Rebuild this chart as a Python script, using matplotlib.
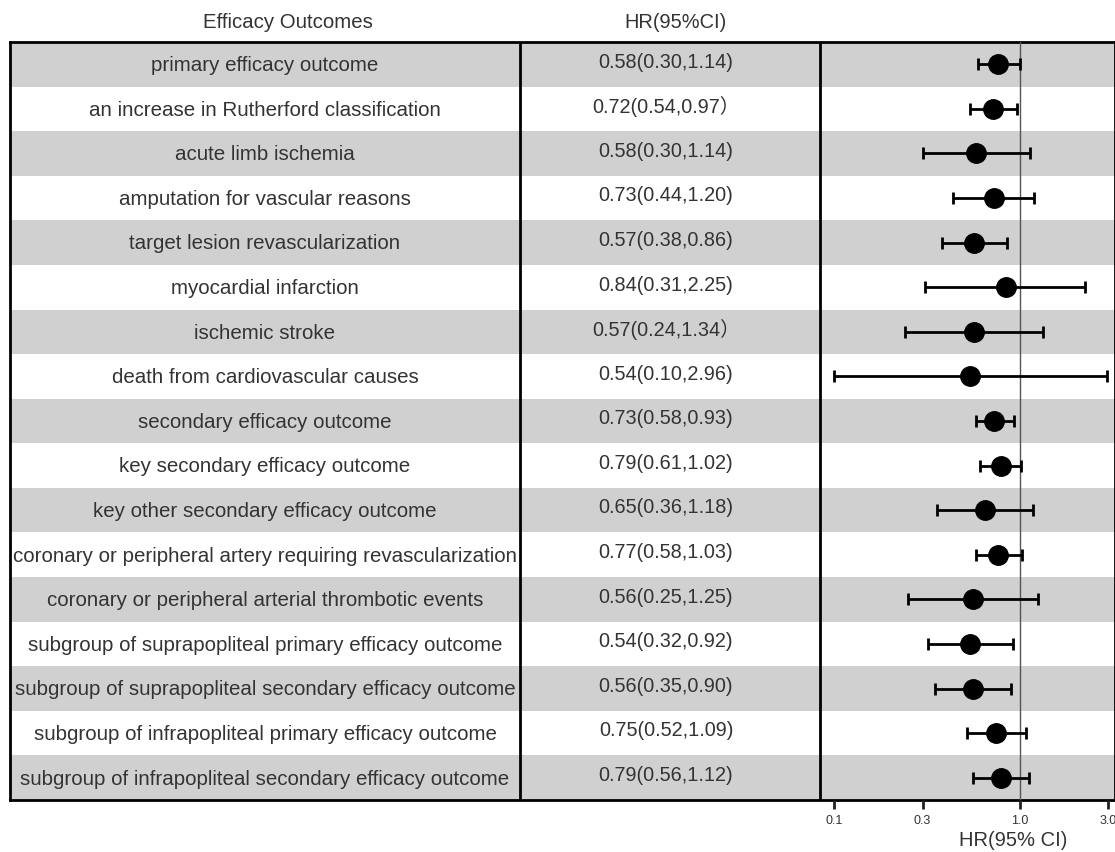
import numpy as np
import matplotlib
matplotlib.use('Agg')
import matplotlib.pyplot as plt

plt.rcParams['font.family'] = ['Liberation Sans', 'Noto Sans CJK SC']

# outcomes, text column and plotted estimates
outcomes = [
    'primary efficacy outcome',
    'an increase in Rutherford classification',
    'acute limb ischemia',
    'amputation for vascular reasons',
    'target lesion revascularization',
    'myocardial infarction',
    'ischemic stroke',
    'death from cardiovascular causes',
    'secondary efficacy outcome',
    'key secondary efficacy outcome',
    'key other secondary efficacy outcome',
    'coronary or peripheral artery requiring revascularization',
    'coronary or peripheral arterial thrombotic events',
    'subgroup of suprapopliteal primary efficacy outcome',
    'subgroup of suprapopliteal secondary efficacy outcome',
    'subgroup of infrapopliteal primary efficacy outcome',
    'subgroup of infrapopliteal secondary efficacy outcome',
]
hr_text = [
    '0.58(0.30,1.14)', '0.72(0.54,0.97）', '0.58(0.30,1.14)', '0.73(0.44,1.20)',
    '0.57(0.38,0.86)', '0.84(0.31,2.25)', '0.57(0.24,1.34）', '0.54(0.10,2.96)',
    '0.73(0.58,0.93)', '0.79(0.61,1.02)', '0.65(0.36,1.18)', '0.77(0.58,1.03)',
    '0.56(0.25,1.25)', '0.54(0.32,0.92)', '0.56(0.35,0.90)', '0.75(0.52,1.09)',
    '0.79(0.56,1.12)',
]
hr = np.array([0.77, 0.72, 0.58, 0.73, 0.57, 0.84, 0.57, 0.54, 0.73, 0.79,
               0.65, 0.77, 0.56, 0.54, 0.56, 0.75, 0.79])
lo = np.array([0.60, 0.54, 0.30, 0.44, 0.38, 0.31, 0.24, 0.10, 0.58, 0.61,
               0.36, 0.58, 0.25, 0.32, 0.35, 0.52, 0.56])
hi = np.array([1.00, 0.97, 1.14, 1.20, 0.86, 2.25, 1.34, 2.96, 0.93, 1.02,
               1.18, 1.03, 1.25, 0.92, 0.90, 1.09, 1.12])
xticks = [0.1, 0.3, 1.0, 3.0]
xtick_labels = ['0.1', '0.3', '1.0', '3.0']

W, H = 1115, 852
n = len(outcomes)
gray = '#d0d0d0'
txt = '#333333'

fig = plt.figure(figsize=(W / 100, H / 100), dpi=100)

# table background
tab = fig.add_axes([10 / W, (H - 800) / H, (W - 10) / W, 758 / H])
tab.set_xlim(10, W)
tab.set_ylim(n, 0)
tab.set_xticks([])
tab.set_yticks([])
for s in tab.spines.values():
    s.set_linewidth(2)
for i in range(n):
    if i % 2 == 0:
        tab.axhspan(i, i + 1, color=gray, lw=0, zorder=0)
    tab.text(265, i + 0.53, outcomes[i], ha='center', va='center', fontsize=14.8, color=txt)
    tab.text(666, i + 0.45, hr_text[i], ha='center', va='center', fontsize=14.3, color=txt)
tab.axvline(520, color='black', lw=2)
tab.axvline(820, color='black', lw=2)

# forest panel
fx = fig.add_axes([820 / W, (H - 800) / H, 295 / W, 758 / H])
fx.patch.set_alpha(0)
fx.set_xscale('log')
fx.set_xlim(0.084, 3.27)
fx.set_ylim(n, 0)
y = np.arange(n) + 0.5
fx.axvline(1.0, color='#555555', lw=1, zorder=1)
fx.errorbar(hr, y, xerr=[hr - lo, hi - hr], fmt='o', color='black', ms=14,
            elinewidth=2, capsize=4, capthick=2, zorder=3)
fx.set_xticks(xticks)
fx.set_xticklabels(xtick_labels)
fx.xaxis.set_minor_locator(matplotlib.ticker.NullLocator())
fx.tick_params(axis='x', direction='out', length=6.5, width=2, labelsize=9,
               pad=4, colors='#222222', labelcolor=txt)
fx.set_yticks([])
for s in fx.spines.values():
    s.set_visible(False)

fig.text(288 / W, 1 - 22 / H, 'Efficacy Outcomes', ha='center', va='center', fontsize=14.7, color=txt)
fig.text(676 / W, 1 - 22 / H, 'HR(95%CI)', ha='center', va='center', fontsize=14.4, color=txt)
fig.text(1013 / W, 1 - 840 / H, 'HR(95% CI)', ha='center', va='center', fontsize=14.5, color=txt)

fig.savefig('out.png', dpi=100)
